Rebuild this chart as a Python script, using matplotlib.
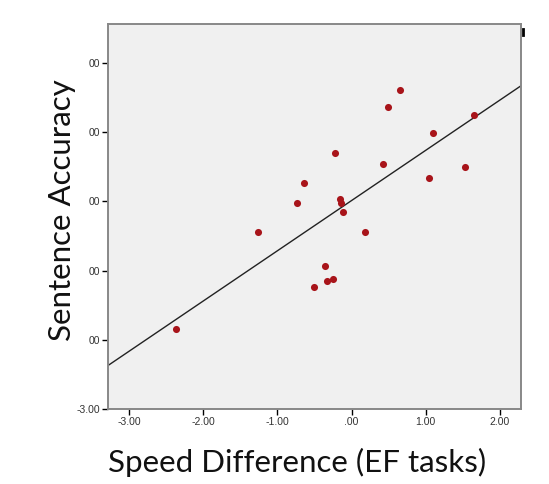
import matplotlib
matplotlib.use('Agg')
import matplotlib.pyplot as plt
from matplotlib.lines import Line2D
import numpy as np

# valores
speed_diff = [-2.37, -1.27, -0.73, -0.64, -0.22, -0.16, -0.14, -0.12, 0.18, -0.36,
              -0.33, -0.25, -0.51, 0.43, 0.49, 0.65, 1.10, 1.05, 1.54, 1.65]
accuracy = [-1.85, -0.44, -0.02, 0.26, 0.70, 0.03, -0.02, -0.15, -0.44, -0.94,
            -1.15, -1.12, -1.24, 0.54, 1.36, 1.61, 0.98, 0.34, 0.50, 1.24]

x_ticks = [-3, -2, -1, 0, 1, 2]
x_labels = ['-3.00', '-2.00', '-1.00', '.00', '1.00', '2.00']
y_ticks = [-3, -2, -1, 0, 1, 2]
y_labels = ['-3.00', '00', '00', '00', '00', '00']

fig = plt.figure(figsize=(5.49, 4.84), dpi=100)
ax = fig.add_axes([108/549, 75/484, 413/549, 385/484])
ax.set_facecolor('#f0f0f0')

ax.scatter(speed_diff, accuracy, s=26, color='#a8141a', zorder=3, linewidths=0)

# recta de regresion
slope, intercept = np.polyfit(speed_diff, accuracy, 1)
xl = np.array([-3.29, 2.29])
ax.plot(xl, slope * xl + intercept, color='#222222', lw=1.0, zorder=2)

ax.set_xlim(-3.29, 2.29)
ax.set_ylim(-3.0, 2.56)
ax.set_xticks(x_ticks)
ax.set_xticklabels(x_labels)
ax.set_yticks(y_ticks)
ax.set_yticklabels(y_labels)
ax.tick_params(direction='out', length=4, width=1, colors='black', labelsize=7.5, pad=2)
for lab in ax.get_xticklabels() + ax.get_yticklabels():
    lab.set_fontfamily('Liberation Sans')
    lab.set_color('#333333')
for s in ax.spines.values():
    s.set_color('#888888')
    s.set_linewidth(1.4)

fig.text(297/549, 1 - 462/484, 'Speed Difference (EF tasks)', fontsize=22.5, family='Lato',
         ha='center', va='center', color='#111111')
fig.text(62/549, 1 - 210/484, 'Sentence Accuracy', fontsize=22.5, family='Lato',
         ha='center', va='center', rotation=90, color='#111111')

# marca pequena arriba a la derecha
fig.add_artist(Line2D([522.5/549, 522.5/549], [1 - 29/484, 1 - 35/484], color='black', lw=2))

fig.savefig('out.png', dpi=100)
